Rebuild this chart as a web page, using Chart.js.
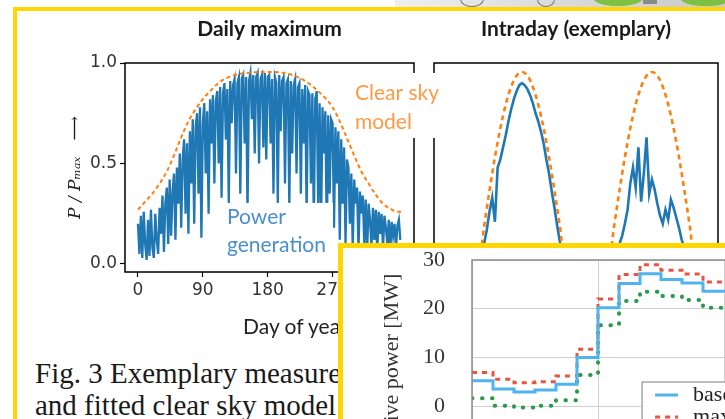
<!DOCTYPE html>
<html>
<head>
<meta charset="utf-8">
<title>Daily maximum / Intraday (exemplary)</title>
<script src="https://cdn.jsdelivr.net/npm/chart.js@4.4.1/dist/chart.umd.min.js"></script>
<style>
  html, body { margin: 0; padding: 0; background: #fff; }
  body { position: relative; width: 725px; height: 419px; overflow: hidden; }
  .abs { position: absolute; }
  #strip { left: 395px; top: 0; width: 330px; height: 7px; background: linear-gradient(90deg, #efefef, #d6d6d6 60%, #cacaca); }
  .ring { top: -9px; height: 14px; border: 1px solid #777; border-radius: 50%; }
  .leaf { top: -10px; height: 16px; background: #7cc144; border-radius: 50%; }
  #frame { left: 13px; top: 7px; width: 780px; height: 470px; border: 4px solid #ffd600; box-sizing: border-box; }
  #c1 { left: 17px; top: 11px; z-index: 2; }
  #c2 { left: 420px; top: 11px; z-index: 1; }
  #xlab { left: 243px; top: 313px; font: 21px Lato, sans-serif; color: #222; white-space: nowrap; z-index: 2; }
  #caption { left: 35px; top: 357px; font: 29px/32px "Liberation Serif", serif; color: #1a1a1a; white-space: nowrap; z-index: 2; }
  #inset { left: 338px; top: 243px; width: 460px; height: 230px; border: 5px solid #ffd600; background: #fff; box-sizing: border-box; z-index: 3; }
  #c3 { left: 343px; top: 248px; z-index: 4; }
</style>
</head>
<body>
<div class="abs" id="strip"></div>
<div class="abs ring" style="left:460px;width:22px"></div>
<div class="abs ring" style="left:537px;width:16px"></div>
<div class="abs leaf" style="left:593px;width:50px"></div>
<div class="abs" style="left:643px;top:0;width:14px;height:4px;background:#8a8a8a"></div>
<div class="abs leaf" style="left:680px;width:52px"></div>
<div class="abs" id="frame"></div>
<canvas class="abs" id="c2" width="340" height="300"></canvas>
<canvas class="abs" id="c1" width="440" height="300"></canvas>
<div class="abs" id="xlab">Day of year</div>
<div class="abs" id="caption">Fig. 3 Exemplary measurements<br>and fitted clear sky model</div>
<div class="abs" id="inset"></div>
<canvas class="abs" id="c3" width="660" height="250"></canvas>
<script>
  // ---- Daily maximum (P / Pmax), one value every 2nd day ----
  const DAY_TICKS = [0, 90, 180, 270, 360];
  const P_TICKS = [0, 0.5, 1.0];
  const POWER = [
    0.20, 0.05, 0.24, 0.03, 0.26, 0.10, 0.02, 0.22, 0.04, 0.27, 0.08, 0.03, 0.25, 0.12, 0.05, 0.28,
    0.15, 0.34, 0.06, 0.30, 0.38, 0.10, 0.42, 0.14, 0.36, 0.45,
    0.12, 0.48, 0.30, 0.55, 0.18, 0.52, 0.62, 0.25, 0.60, 0.15,
    0.66, 0.40, 0.72, 0.20, 0.68, 0.75, 0.35, 0.78, 0.13, 0.70,
    0.80, 0.45, 0.76, 0.25, 0.82, 0.60, 0.84, 0.40, 0.81, 0.86,
    0.50, 0.88, 0.33, 0.85, 0.90, 0.62, 0.87, 0.30, 0.91, 0.70, 0.89, 0.92, 0.45, 0.90, 0.93,
    0.35, 0.92, 0.94, 0.60, 0.93, 0.25, 0.91, 0.95, 0.72, 0.94, 0.55, 0.93, 0.95, 0.50, 0.92, 0.94, 0.58, 0.95, 0.52, 0.93,
    0.94, 0.60, 0.92, 0.35, 0.93, 0.90, 0.30, 0.94, 0.66, 0.91, 0.93, 0.40, 0.90, 0.92, 0.28, 0.91, 0.55, 0.89, 0.92, 0.45,
    0.88, 0.90, 0.35, 0.87, 0.60, 0.89, 0.25, 0.86, 0.84, 0.40, 0.85, 0.20, 0.82, 0.86, 0.30,
    0.80, 0.15, 0.78, 0.55, 0.76, 0.13, 0.74, 0.35, 0.72, 0.70, 0.18, 0.68, 0.40, 0.66, 0.12,
    0.62, 0.30, 0.58, 0.10, 0.52, 0.48, 0.20, 0.45, 0.08, 0.42, 0.30, 0.38, 0.07, 0.36, 0.25,
    0.34, 0.10, 0.32, 0.06, 0.30, 0.22, 0.08, 0.28, 0.12, 0.27, 0.05, 0.26, 0.15, 0.25, 0.08,
    0.24, 0.18, 0.10, 0.22, 0.06, 0.21, 0.14, 0.20, 0.08, 0.19, 0.22, 0.12
  ];
  const DAYS = POWER.map((_, i) => i * 2);
  const CLEAR_DAYS = [0, 10, 20, 30, 40, 50, 60, 70, 80, 90, 100, 110, 120, 130, 140, 150, 160, 170, 180,
    190, 200, 210, 220, 230, 240, 250, 260, 270, 280, 290, 300, 310, 320, 330, 340, 350, 360, 365];
  const CLEAR = [0.27, 0.31, 0.35, 0.40, 0.46, 0.54, 0.63, 0.71, 0.77, 0.82, 0.86, 0.895, 0.92, 0.935, 0.945, 0.95, 0.953, 0.955, 0.955,
    0.955, 0.952, 0.945, 0.932, 0.915, 0.89, 0.86, 0.825, 0.78, 0.71, 0.625, 0.54, 0.46, 0.40, 0.345, 0.30, 0.275, 0.26, 0.26];

  // ---- Intraday (exemplary), hours ----
  const CS_HOURS = [-4, 4, 5, 6, 7, 8, 9, 10, 11, 12, 13, 14, 15, 16, 17, 18, 19, 20,
    28, 29, 30, 31, 32, 33, 34, 35, 36, 37, 38, 39, 40, 41, 42, 43, 44, 48.2];
  const CS_POWER = [0, 0, 0.186, 0.365, 0.531, 0.675, 0.794, 0.882, 0.937, 0.955, 0.937, 0.882, 0.794, 0.675, 0.531, 0.365, 0.186, 0,
    0, 0.186, 0.365, 0.531, 0.675, 0.794, 0.882, 0.937, 0.955, 0.937, 0.882, 0.794, 0.675, 0.531, 0.365, 0.186, 0, 0];
  const INTRA_HOURS = [-4, 4, 4.5, 5, 5.5, 6, 6.5, 7, 7.5, 8, 8.5, 9, 9.5, 10, 10.5, 11, 11.5, 12, 12.5, 13, 13.5, 14,
    14.5, 15, 15.5, 16, 16.5, 17, 17.5, 18, 18.5, 19, 19.5, 20,
    28, 29, 29.5, 30, 30.5, 31, 31.5, 32, 32.5, 33, 33.5, 34, 34.5, 35, 35.5, 36, 36.5, 37, 37.5, 38, 38.5,
    39, 39.5, 40, 40.5, 41, 41.5, 42, 42.5, 43, 48.2];
  const INTRA_POWER = [0, 0, 0.04, 0.10, 0.17, 0.26, 0.33, 0.21, 0.48, 0.52, 0.58, 0.64, 0.71, 0.77, 0.82, 0.86, 0.89, 0.90, 0.89, 0.87, 0.84, 0.80,
    0.75, 0.71, 0.66, 0.60, 0.52, 0.45, 0.36, 0.28, 0.19, 0.11, 0.04, 0,
    0, 0.02, 0.06, 0.10, 0.14, 0.20, 0.27, 0.40, 0.48, 0.38, 0.58, 0.31, 0.45, 0.63, 0.35, 0.42, 0.37, 0.30, 0.24, 0.20, 0.27,
    0.22, 0.32, 0.28, 0.23, 0.18, 0.12, 0.08, 0.03, 0, 0];

  // ---- inset: active power [MW] per hour (step values) ----
  const HOURS = [0, 1, 2, 3, 4, 5, 6, 7, 8, 9, 10, 11, 12, 13];
  const BASE = [5.2, 3.5, 2.9, 3.3, 4.5, 10.0, 20.2, 25.2, 27.2, 26.0, 25.3, 23.6, 23.6, 23.6];
  const MAX = [6.9, 5.5, 4.8, 5.0, 6.2, 11.7, 22.0, 27.0, 29.0, 27.9, 27.1, 25.5, 25.5, 25.5];
  const MIN = [1.6, 0.1, -0.3, 0.1, 1.2, 6.4, 16.6, 21.6, 23.5, 22.6, 21.8, 20.2, 20.2, 20.2];
  const HOUR_TICKS = [0, 6, 12, 18, 24];
  const MW_TICKS = [0, 10, 20, 30];

  const xy = (xs, ys) => xs.map((x, i) => ({ x, y: ys[i] }));

  Chart.defaults.font.family = "'DejaVu Sans', sans-serif";
  Chart.defaults.animation = false;

  // box round the plot area
  const frame = {
    id: "frame",
    afterDatasetsDraw(c, a, o) {
      const { left, top, right, bottom } = c.chartArea, ctx = c.ctx;
      ctx.save();
      ctx.strokeStyle = o.color || "#000";
      ctx.lineWidth = o.width || 1.5;
      ctx.strokeRect(left, top, right - left, bottom - top);
      ctx.restore();
    }
  };
  // text labels with a white box, anchored in data units
  const tags = {
    id: "tags",
    afterDraw(c, a, o) {
      const ctx = c.ctx, sx = c.scales.x, sy = c.scales.y;
      ctx.save();
      (o.items || []).forEach(it => {
        const px = sx.getPixelForValue(it.x), py = sy.getPixelForValue(it.y);
        ctx.fillStyle = "#fff";
        ctx.fillRect(px + it.box[0], py + it.box[1], it.box[2], it.box[3]);
        ctx.font = it.font;
        ctx.fillStyle = it.color;
        ctx.textAlign = "left";
        ctx.textBaseline = "middle";
        it.lines.forEach((t, i) => ctx.fillText(t, px, py + i * it.lh));
      });
      ctx.restore();
    }
  };
  // legend box drawn from the datasets
  const boxLegend = {
    id: "boxLegend",
    afterDraw(c, a, o) {
      const ctx = c.ctx;
      const px = c.scales.x.getPixelForValue(o.x), py = c.scales.y.getPixelForValue(o.y);
      ctx.save();
      ctx.fillStyle = "#fff";
      ctx.fillRect(px, py, 300, 120);
      ctx.strokeStyle = "#9a9a9a";
      ctx.lineWidth = 1.3;
      ctx.strokeRect(px, py, 300, 120);
      c.data.datasets.forEach((ds, i) => {
        const y = py + 13 + i * o.row;
        ctx.strokeStyle = ds.borderColor;
        ctx.lineWidth = ds.borderWidth;
        ctx.lineCap = ds.borderCapStyle || "butt";
        ctx.setLineDash(ds.borderDash || []);
        ctx.beginPath(); ctx.moveTo(px + 13, y); ctx.lineTo(px + 36, y); ctx.stroke();
        ctx.setLineDash([]);
        ctx.fillStyle = "#222";
        ctx.font = o.font;
        ctx.textBaseline = "middle";
        ctx.fillText(ds.label, px + 51, y);
      });
      ctx.restore();
    }
  };

  const titleFont = { family: "Lato, sans-serif", weight: "bold", size: 21 };
  const tickGrid = { drawOnChartArea: false, color: "#000", tickLength: 5, tickWidth: 1.2 };

  new Chart(document.getElementById("c1"), {
    type: "line",
    data: {
      datasets: [
        { label: "Clear sky model", data: xy(CLEAR_DAYS, CLEAR), borderColor: "#ff7f0e", borderWidth: 2,
          borderDash: [4, 3], pointRadius: 0, cubicInterpolationMode: "monotone" },
        { label: "Power generation", data: xy(DAYS, POWER), borderColor: "#1f77b4", borderWidth: 2.3,
          pointRadius: 0, tension: 0 }
      ]
    },
    options: {
      responsive: false, events: [],
      layout: { padding: { left: 0, right: 43, top: 0, bottom: 0 } },
      plugins: {
        legend: { display: false }, tooltip: { enabled: false },
        title: { display: true, text: "Daily maximum", fullSize: false, color: "#1a1a1a", font: titleFont,
          padding: { top: 6, bottom: 20.8 } },
        frame: { color: "#000", width: 1.5 },
        tags: { items: [
          { x: 301, y: 0.851, lines: ["Clear sky", "model"], lh: 29, color: "#fb9b45", font: "21px Lato, sans-serif", box: [-5, -20, 93, 65] },
          { x: 123.5, y: 0.234, lines: ["Power", "generation"], lh: 28, color: "#4b8fcf", font: "21px Lato, sans-serif", box: [-4, -14, 110, 55] }
        ] }
      },
      scales: {
        x: {
          type: "linear", min: -18, max: 383,
          afterBuildTicks: s => { s.ticks = DAY_TICKS.map(v => ({ value: v })); },
          afterFit: s => { s.height = 39; },
          border: { display: false }, grid: tickGrid,
          ticks: { color: "#333", font: { size: 17 }, padding: 3, maxRotation: 0 }
        },
        y: {
          min: -0.04, max: 1.0,
          afterBuildTicks: s => { s.ticks = P_TICKS.map(v => ({ value: v })); },
          afterFit: s => { s.width = 108; },
          border: { display: false }, grid: tickGrid,
          ticks: { color: "#333", font: { size: 17 }, padding: 3, callback: v => v.toFixed(1) },
          title: { display: true, text: "P / P\u2098\u2090\u2093   \u27F6", color: "#1a1a1a",
            font: { family: "'DejaVu Serif', serif", style: "italic", size: 17 }, padding: { top: 48, bottom: 0 } }
        }
      }
    },
    plugins: [frame, tags]
  });

  new Chart(document.getElementById("c2"), {
    type: "line",
    data: {
      datasets: [
        { label: "Clear sky model", data: xy(CS_HOURS, CS_POWER), borderColor: "#ff7f0e", borderWidth: 2.6,
          borderDash: [5, 4], pointRadius: 0, cubicInterpolationMode: "monotone" },
        { label: "Power generation", data: xy(INTRA_HOURS, INTRA_POWER), borderColor: "#1f77b4", borderWidth: 2.6,
          pointRadius: 0, tension: 0 }
      ]
    },
    options: {
      responsive: false, events: [],
      layout: { padding: { left: 14, right: 42, top: 0, bottom: 39 } },
      plugins: {
        legend: { display: false }, tooltip: { enabled: false },
        title: { display: true, text: "Intraday (exemplary)", fullSize: false, color: "#1a1a1a", font: titleFont,
          padding: { top: 6, bottom: 20.8 } },
        frame: { color: "#000", width: 1.5 }
      },
      scales: {
        x: { type: "linear", display: false, min: -4.25, max: 48.2 },
        y: { display: false, min: -0.04, max: 1.0 }
      }
    },
    plugins: [frame]
  });

  const serif = "'Liberation Serif', 'Times New Roman', serif";
  new Chart(document.getElementById("c3"), {
    type: "line",
    data: {
      datasets: [
        { label: "base", data: xy(HOURS, BASE), borderColor: "#4fb4ee", borderWidth: 3, stepped: "before", pointRadius: 0 },
        { label: "max", data: xy(HOURS, MAX), borderColor: "#e8553f", borderWidth: 3, borderDash: [5, 5], stepped: "before", pointRadius: 0 },
        { label: "min", data: xy(HOURS, MIN), borderColor: "#2a9a4a", borderWidth: 4, borderDash: [0.5, 9.5],
          borderCapStyle: "round", stepped: "before", pointRadius: 0 }
      ]
    },
    options: {
      responsive: false, events: [],
      layout: { padding: { left: 32, right: 27, top: 12, bottom: 0 } },
      plugins: {
        legend: { display: false }, tooltip: { enabled: false },
        frame: { color: "#8c8c8c", width: 1.5 },
        boxLegend: { x: 8.1, y: 4.95, row: 22, font: "22px " + serif }
      },
      scales: {
        x: {
          type: "linear", min: 0, max: 24,
          afterBuildTicks: s => { s.ticks = HOUR_TICKS.map(v => ({ value: v })); },
          afterFit: s => { s.height = 31; },
          border: { display: false }, grid: { color: "#cfcfcf", drawTicks: false },
          ticks: { display: false }
        },
        y: {
          min: -12.5, max: 30,
          afterBuildTicks: s => { s.ticks = MW_TICKS.map(v => ({ value: v })); },
          afterFit: s => { s.width = 97; },
          border: { display: false },
          // invisible tick marks keep the labels away from the frame without padding the plot height
          grid: { color: "#cfcfcf", drawTicks: true, tickLength: 27, tickColor: "rgba(0,0,0,0)" },
          ticks: { color: "#333", padding: 0, font: { family: serif, size: 22, lineHeight: 1.0 } },
          title: { display: true, text: "Active power [MW]", color: "#333", font: { family: serif, size: 22 },
            padding: { top: 4, bottom: 4 } }
        }
      }
    },
    plugins: [frame, boxLegend]
  });
</script>
</body>
</html>
